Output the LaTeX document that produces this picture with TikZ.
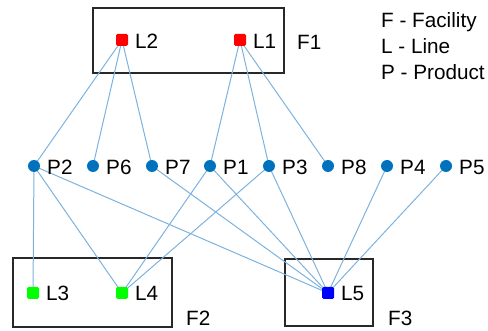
\documentclass[tikz,border=0pt]{standalone}
\usepackage{fontspec}
\setmainfont{Liberation Sans}
\definecolor{edgeblue}{RGB}{125,178,222}
\definecolor{pblue}{RGB}{0,114,189}
\definecolor{boxgray}{RGB}{40,40,40}
\begin{document}
\begin{tikzpicture}[x=1pt,y=-1pt,
  every node/.style={font=\fontsize{20.7}{24}\selectfont},
  lmark/.style={draw=none,rectangle,rounded corners=1.5pt,minimum size=12pt,inner sep=0pt},
  pmark/.style={draw=none,circle,fill=pblue,minimum size=12pt,inner sep=0pt},
  lbl/.style={anchor=west,inner sep=0pt,text height=14.8pt,text depth=0pt},
  facbox/.style={draw=boxgray,line width=1.1pt},
  link/.style={draw=edgeblue,line width=1pt}]
\useasboundingbox (0,0) rectangle (488,331);
% facility boxes
\draw[facbox] (93,8) rectangle (284,73);
\draw[facbox] (13,258) rectangle (172,327);
\draw[facbox] (285,259) rectangle (373,326);
% coordinates of markers
\coordinate (cL2) at (122,40);
\coordinate (cL1) at (240,40);
\coordinate (cL3) at (33,293);
\coordinate (cL4) at (122,293);
\coordinate (cL5) at (328,293);
\coordinate (cP2) at (34,166);
\coordinate (cP6) at (93,166);
\coordinate (cP7) at (152,166);
\coordinate (cP1) at (210,166);
\coordinate (cP3) at (269,166);
\coordinate (cP8) at (328,166);
\coordinate (cP4) at (387,166);
\coordinate (cP5) at (446,166);
% edges
\foreach \a/\b in {L2/P2,L2/P6,L2/P7,L1/P1,L1/P3,L1/P8,
  P2/L3,P2/L4,P2/L5,P7/L5,P1/L4,P1/L5,P3/L4,P3/L5,P4/L5,P5/L5}
  \draw[link] (c\a) -- (c\b);
% line markers
\node[lmark,fill=red] (L2) at (cL2) {};
\node[lmark,fill=red] (L1) at (cL1) {};
\node[lmark,fill=green] (L3) at (cL3) {};
\node[lmark,fill=green] (L4) at (cL4) {};
\node[lmark,fill=blue] (L5) at (cL5) {};
% product markers
\foreach \p in {P2,P6,P7,P1,P3,P8,P4,P5}
  \node[pmark] (\p) at (c\p) {};
% labels
\node[lbl] (tL2) at (135,41) {L2};
\node[lbl] (tL1) at (253,41) {L1};
\node[lbl] (tL3) at (46,293.5) {L3};
\node[lbl] (tL4) at (135,293.5) {L4};
\node[lbl] (tL5) at (341,293.5) {L5};
\foreach \p/\x in {P2/47,P6/106,P7/165,P1/223,P3/282,P8/341,P4/400,P5/459}
  \node[lbl] (t\p) at (\x,167.5) {\p};
\node[lbl] (tF1) at (297,42.5) {F1};
\node[lbl] (tF2) at (186,318.5) {F2};
\node[lbl] (tF3) at (388,318.5) {F3};
% legend
\node[lbl] (legF) at (381,20.5) {F - Facility};
\node[lbl] (legL) at (381,46.5) {L - Line};
\node[lbl] (legP) at (381,72.5) {P - Product};
\end{tikzpicture}
\end{document}
